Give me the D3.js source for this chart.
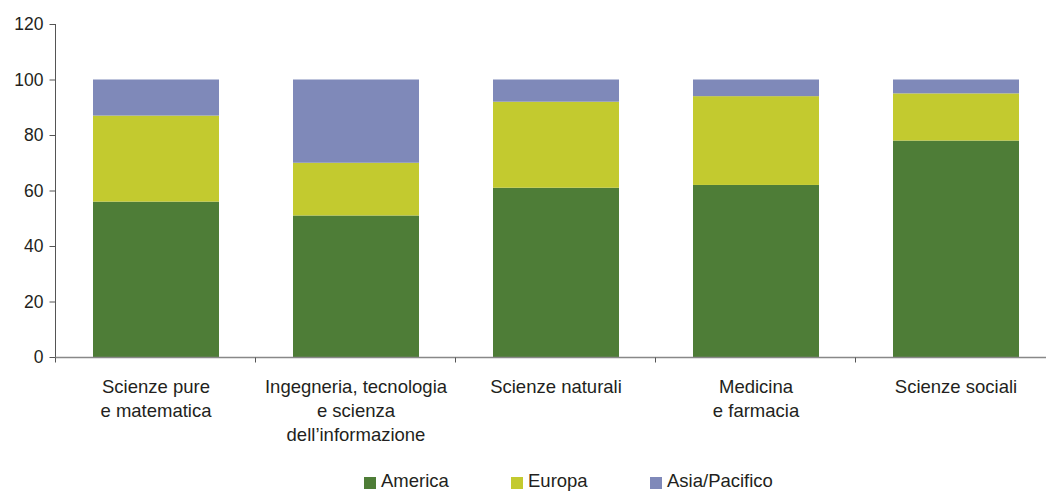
<!DOCTYPE html>
<html>
<head>
<meta charset="utf-8">
<script src="https://cdn.jsdelivr.net/npm/d3@7"></script>
<style>
  body { margin: 0; background: #fff; }
  svg text { font-family: "Liberation Sans", Arial, sans-serif; fill: #231f20; }
</style>
</head>
<body>
<div id="chart"></div>
<script>
    // data
    var categories = [
        ["Scienze pure", "e matematica"],
        ["Ingegneria, tecnologia", "e scienza", "dell\u2019informazione"],
        ["Scienze naturali"],
        ["Medicina", "e farmacia"],
        ["Scienze sociali"]
    ];
    var seriesNames = ["America", "Europa", "Asia/Pacifico"];
    var america = [56, 51, 61, 62, 78];
    var europa = [31, 19, 31, 32, 17];
    var asia = [13, 30, 8, 6, 5];
    var yTicks = [0, 20, 40, 60, 80, 100, 120];

    var colors = ["#4e7d37", "#c3ca2f", "#7f89b9"];

    var width = 1046, height = 491;
    var margin = {left: 55, top: 24, bottom: 134};
    var plotH = height - margin.top - margin.bottom;

    var svg = d3.select("#chart").append("svg")
        .attr("width", width)
        .attr("height", height);

    // build rows for the stack
    var rows = categories.map(function (c, i) {
        return {key: i, America: america[i], Europa: europa[i], "Asia/Pacifico": asia[i]};
    });
    var stacked = d3.stack().keys(seriesNames)(rows);

    var x = d3.scaleBand()
        .domain(d3.range(categories.length))
        .range([margin.left + 1, margin.left + 1001])
        .paddingInner(0.37)
        .paddingOuter(0.185);

    var y = d3.scaleLinear()
        .domain([0, 120])
        .range([margin.top + plotH, margin.top]);

    // bars
    svg.selectAll("g.series")
        .data(stacked)
        .enter()
        .append("g")
        .attr("class", "series")
        .attr("fill", function (d, i) { return colors[i]; })
        .selectAll("rect")
        .data(function (d) { return d; })
        .enter()
        .append("rect")
        .attr("x", function (d, i) { return x(i); })
        .attr("width", x.bandwidth())
        .attr("y", function (d) { return y(d[1]); })
        .attr("height", function (d) { return y(d[0]) - y(d[1]); });

    // y axis
    var yAxis = d3.axisLeft(y).tickValues(yTicks).tickSize(6).tickPadding(6);
    var gy = svg.append("g")
        .attr("transform", "translate(" + (margin.left + 0.5) + ",0)")
        .call(yAxis);
    gy.select(".domain").attr("stroke", "#555").attr("d", "M0," + y(120) + "V" + y(0));
    gy.selectAll(".tick line").attr("stroke", "#555");
    gy.selectAll(".tick text").style("font-size", "17.5px").attr("fill", "#231f20");

    // x axis line and separator ticks
    var baseY = Math.round(y(0)) + 0.5;
    svg.append("line")
        .attr("x1", margin.left).attr("x2", width)
        .attr("y1", baseY).attr("y2", baseY)
        .attr("stroke", "#888").attr("stroke-width", 1.5);
    var step = x.step();
    svg.selectAll("line.sep")
        .data(d3.range(categories.length))
        .enter()
        .append("line")
        .attr("class", "sep")
        .attr("x1", function (d) { return margin.left + step * d + 0.5; })
        .attr("x2", function (d) { return margin.left + step * d + 0.5; })
        .attr("y1", baseY).attr("y2", baseY + 5)
        .attr("stroke", "#555");

    // category labels
    svg.selectAll("text.cat")
        .data(categories)
        .enter()
        .append("text")
        .attr("class", "cat")
        .attr("text-anchor", "middle")
        .style("font-size", "18.5px")
        .each(function (d, i) {
            var cx = x(i) + x.bandwidth() / 2;
            d3.select(this).selectAll("tspan")
                .data(d)
                .enter()
                .append("tspan")
                .attr("x", cx)
                .attr("y", function (t, j) { return 393 + j * 24; })
                .text(function (t) { return t; });
        });

    // legend
    var legendX = [364, 511, 650];
    var legend = svg.selectAll("g.legend")
        .data(seriesNames)
        .enter()
        .append("g")
        .attr("class", "legend")
        .attr("transform", function (d, i) { return "translate(" + legendX[i] + ",477)"; });
    legend.append("rect")
        .attr("width", 12).attr("height", 12)
        .attr("fill", function (d, i) { return colors[i]; });
    legend.append("text")
        .attr("x", 17).attr("y", 10)
        .style("font-size", "18.5px")
        .text(function (d) { return d; });
</script>
</body>
</html>
